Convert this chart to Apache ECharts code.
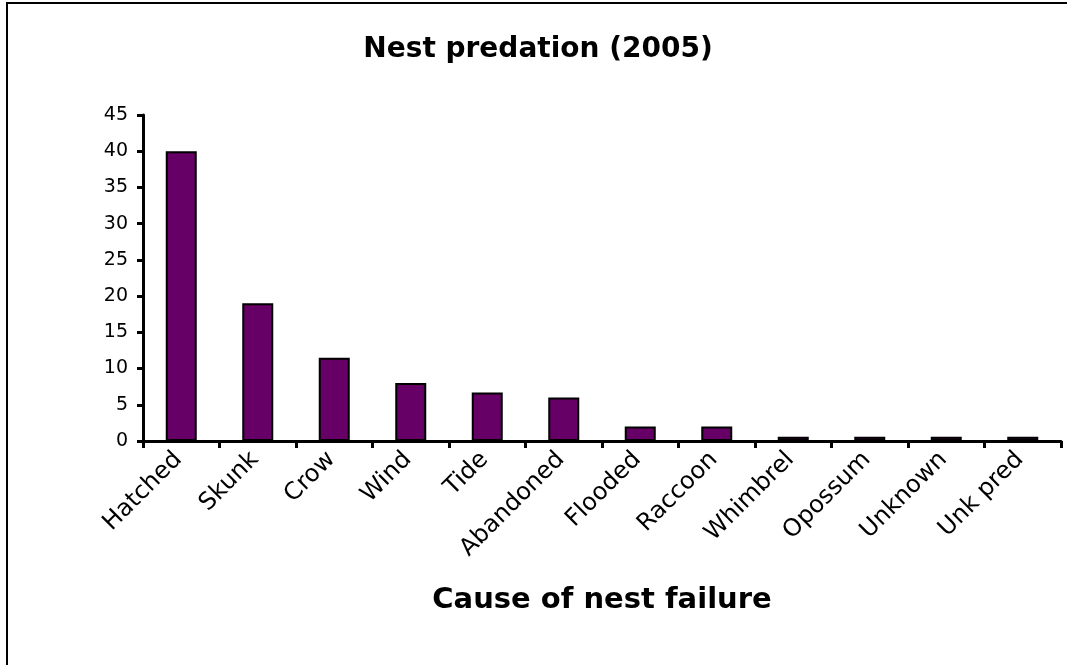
<!DOCTYPE html>
<html>
<head>
<meta charset="utf-8">
<script src="https://cdn.jsdelivr.net/npm/echarts@6/dist/echarts.min.js"></script>
<style>
html,body{margin:0;padding:0;background:#fff;}
#c{width:1067px;height:665px;}
</style>
</head>
<body>
<div id="c"></div>
<script>
const categories = ['Hatched','Skunk','Crow','Wind','Tide','Abandoned','Flooded','Raccoon','Whimbrel','Opossum','Unknown','Unk pred'];
const values = [40, 19, 11.5, 8, 6.7, 6, 2, 2, 0.6, 0.6, 0.6, 0.6];
const yTicks = [0, 5, 10, 15, 20, 25, 30, 35, 40, 45];

const chart = echarts.init(document.getElementById('c'), null, {renderer:'canvas'});
const font = 'DejaVu Sans, Verdana, sans-serif';
chart.setOption({
  animation: false,
  backgroundColor: '#fff',
  graphic: [{
    type: 'rect', silent: true, z: -1,
    shape: {x: 7, y: 3, width: 1200, height: 800},
    style: {fill: 'none', stroke: '#000', lineWidth: 2}
  }],
  title: {
    text: 'Nest predation (2005)',
    left: 533, top: 31, textAlign: 'center',
    textStyle: {fontFamily: font, fontSize: 28, fontWeight: 'bold', color: '#000'}
  },
  grid: {left: 143, top: 115, width: 918, height: 326, containLabel: false},
  xAxis: {
    type: 'category',
    data: categories,
    name: 'Cause of nest failure',
    nameLocation: 'middle',
    nameGap: 145,
    nameTextStyle: {fontFamily: font, fontSize: 29, fontWeight: 'bold', color: '#000'},
    axisLine: {lineStyle: {color: '#000', width: 3}},
    axisTick: {show: true, alignWithLabel: false, length: 7, lineStyle: {color: '#000', width: 3}},
    axisLabel: {rotate: 45, fontFamily: font, fontSize: 24, color: '#000', margin: 12, interval: 0,
      padding: [0, 4, 0, 0]},
    splitLine: {show: false}
  },
  yAxis: {
    type: 'value',
    min: 0, max: 45, interval: 5,
    axisLine: {show: true, lineStyle: {color: '#000', width: 3}},
    axisTick: {show: true, length: 6, lineStyle: {color: '#000', width: 3}},
    axisLabel: {fontFamily: font, fontSize: 19, color: '#000', margin: 15,
      formatter: v => yTicks.includes(v) ? String(v) : ''},
    splitLine: {show: false}
  },
  series: [{
    type: 'bar',
    data: values,
    barWidth: 31,
    itemStyle: {color: '#660066', borderColor: '#000', borderWidth: 2}
  }]
});
</script>
</body>
</html>
